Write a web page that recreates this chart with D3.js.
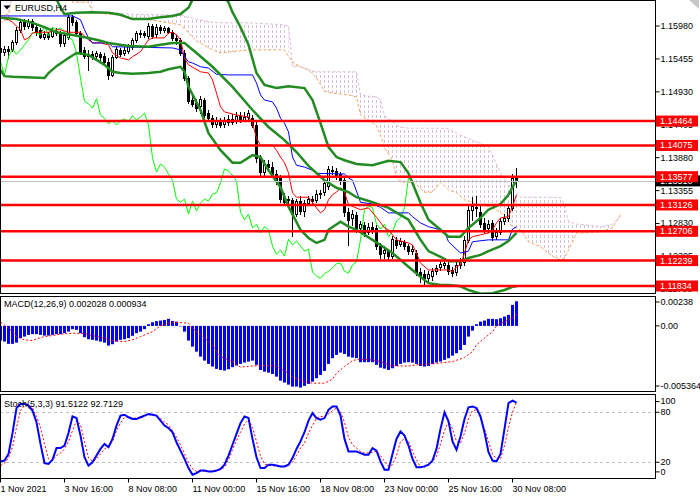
<!DOCTYPE html>
<html>
<head>
<meta charset="utf-8">
<script src="https://cdn.jsdelivr.net/npm/d3@7"></script>
<style>
  body { margin: 0; background: #fff; }
  svg { display: block; }
  text { font-family: "Liberation Sans", Arial, sans-serif; font-size: 9px; fill: #000; }
</style>
</head>
<body>
<div class="chart"></div>
<script>
// EURUSD H4 bars, 1 Nov 00:00 .. 30 Nov 12:00 (weekends skipped)
var opens = [1.1563,1.1557,1.1561,1.1561,1.1573,1.1592,1.1604,1.1598,1.1606,1.1596,
  1.1592,1.1580,1.1585,1.1582,1.1590,1.1587,1.1571,1.1580,1.1612,1.1604,
  1.1587,1.1560,1.1550,1.1553,1.1550,1.1553,1.1550,1.1541,1.1520,1.1549,
  1.1560,1.1555,1.1558,1.1565,1.1576,1.1585,1.1587,1.1582,1.1598,1.1585,
  1.1596,1.1592,1.1595,1.1588,1.1579,1.1576,1.1555,1.1515,1.1480,1.1475,
  1.1470,1.1480,1.1459,1.1451,1.1442,1.1447,1.1442,1.1445,1.1450,1.1447,
  1.1455,1.1448,1.1453,1.1451,1.1440,1.1388,1.1365,1.1378,1.1373,1.1362,
  1.1357,1.1325,1.1321,1.1321,1.1298,1.1319,1.1303,1.1316,1.1322,1.1321,
  1.1330,1.1333,1.1343,1.1368,1.1367,1.1362,1.1352,1.1301,1.1292,1.1297,
  1.1276,1.1281,1.1270,1.1278,1.1276,1.1247,1.1236,1.1239,1.1231,1.1257,
  1.1250,1.1254,1.1247,1.1239,1.1236,1.1206,1.1203,1.1196,1.1199,1.1207,
  1.1214,1.1217,1.1217,1.1209,1.1206,1.1217,1.1222,1.1257,1.1305,1.1309,
  1.1301,1.1284,1.1276,1.1284,1.1263,1.1270,1.1287,1.1292,1.1308,1.1356];
var highs = [1.1568,1.1566,1.1566,1.1576,1.1596,1.1608,1.1609,1.1609,1.1609,1.1601,
  1.1595,1.1590,1.1588,1.1595,1.1595,1.1590,1.1587,1.1616,1.1616,1.1608,
  1.1590,1.1565,1.1560,1.1558,1.1558,1.1557,1.1555,1.1547,1.1552,1.1565,
  1.1563,1.1565,1.1569,1.1579,1.1590,1.1592,1.1590,1.1603,1.1601,1.1601,
  1.1600,1.1598,1.1596,1.1592,1.1584,1.1579,1.1560,1.1518,1.1486,1.1482,
  1.1486,1.1483,1.1464,1.1456,1.1453,1.1451,1.1453,1.1456,1.1458,1.1461,
  1.1461,1.1461,1.1464,1.1456,1.1445,1.1392,1.1384,1.1384,1.1381,1.1368,
  1.1360,1.1332,1.1327,1.1324,1.1322,1.1327,1.1321,1.1327,1.1327,1.1337,
  1.1337,1.1352,1.1375,1.1375,1.1372,1.1365,1.1359,1.1308,1.1305,1.1301,
  1.1287,1.1286,1.1284,1.1286,1.1281,1.1252,1.1247,1.1242,1.1263,1.1262,
  1.1260,1.1257,1.1250,1.1249,1.1241,1.1212,1.1209,1.1207,1.1212,1.1217,
  1.1223,1.1226,1.1222,1.1214,1.1222,1.1228,1.1263,1.1311,1.1325,1.1327,
  1.1311,1.1292,1.1289,1.1289,1.1276,1.1292,1.1298,1.1314,1.1362,1.1372];
var lows = [1.1550,1.1552,1.1547,1.1558,1.1569,1.1588,1.1593,1.1595,1.1592,1.1584,
  1.1579,1.1577,1.1577,1.1580,1.1584,1.1566,1.1566,1.1577,1.1600,1.1584,
  1.1553,1.1547,1.1528,1.1545,1.1547,1.1544,1.1537,1.1514,1.1518,1.1547,
  1.1550,1.1552,1.1555,1.1561,1.1573,1.1580,1.1580,1.1579,1.1579,1.1580,
  1.1587,1.1588,1.1587,1.1576,1.1569,1.1552,1.1512,1.1475,1.1470,1.1462,
  1.1459,1.1453,1.1447,1.1437,1.1437,1.1437,1.1437,1.1440,1.1442,1.1443,
  1.1445,1.1447,1.1448,1.1437,1.1381,1.1357,1.1357,1.1368,1.1359,1.1346,
  1.1317,1.1313,1.1313,1.1263,1.1295,1.1298,1.1295,1.1313,1.1314,1.1317,
  1.1324,1.1329,1.1338,1.1362,1.1354,1.1346,1.1295,1.1249,1.1281,1.1270,
  1.1271,1.1263,1.1266,1.1268,1.1242,1.1228,1.1228,1.1226,1.1228,1.1244,
  1.1247,1.1242,1.1234,1.1234,1.1201,1.1190,1.1185,1.1191,1.1193,1.1203,
  1.1209,1.1212,1.1203,1.1199,1.1201,1.1212,1.1217,1.1254,1.1289,1.1295,
  1.1278,1.1270,1.1270,1.1257,1.1258,1.1266,1.1282,1.1287,1.1305,1.1341];
var closes = [1.1557,1.1561,1.1558,1.1573,1.1592,1.1604,1.1598,1.1606,1.1596,1.1588,
  1.1580,1.1585,1.1580,1.1590,1.1587,1.1571,1.1584,1.1612,1.1604,1.1587,
  1.1557,1.1550,1.1553,1.1549,1.1555,1.1549,1.1541,1.1520,1.1549,1.1561,
  1.1553,1.1560,1.1568,1.1576,1.1587,1.1587,1.1584,1.1598,1.1582,1.1596,
  1.1592,1.1595,1.1588,1.1579,1.1576,1.1555,1.1515,1.1478,1.1474,1.1467,
  1.1482,1.1456,1.1451,1.1442,1.1447,1.1440,1.1447,1.1450,1.1445,1.1455,
  1.1448,1.1453,1.1459,1.1440,1.1388,1.1365,1.1378,1.1373,1.1362,1.1352,
  1.1322,1.1317,1.1322,1.1298,1.1319,1.1303,1.1316,1.1322,1.1319,1.1330,
  1.1332,1.1348,1.1370,1.1367,1.1360,1.1351,1.1301,1.1289,1.1298,1.1276,
  1.1282,1.1268,1.1278,1.1273,1.1247,1.1234,1.1241,1.1231,1.1258,1.1249,
  1.1255,1.1247,1.1239,1.1242,1.1206,1.1199,1.1196,1.1203,1.1207,1.1212,
  1.1219,1.1220,1.1207,1.1204,1.1217,1.1222,1.1257,1.1305,1.1311,1.1308,
  1.1282,1.1274,1.1282,1.1262,1.1270,1.1287,1.1292,1.1308,1.1356,1.1351];

var dateIdx = [0, 16, 32, 48, 64, 80, 96, 112, 128];
var dateLabels = ["1 Nov 2021", "3 Nov 16:00", "8 Nov 08:00", "11 Nov 00:00", "15 Nov 16:00",
  "18 Nov 08:00", "23 Nov 00:00", "25 Nov 16:00", "30 Nov 08:00"];

var priceTicks = [1.15980, 1.15455, 1.14930, 1.14405, 1.13880, 1.13355, 1.12830, 1.12305, 1.11780];
var levels = [1.14464, 1.14075, 1.13577, 1.13126, 1.12706, 1.12239, 1.11834];
var bidPrice = 1.13510;

// indicator lines: [bar, value]
var tenkan = [[0,1.1611],[2,1.1608],[3,1.1604],[5,1.1592],[6,1.1576],[7,1.1579],[8,1.1587],[9,1.1588],
  [12,1.1588],[14,1.1592],[15,1.1592],[17,1.1588],[20,1.1588],[22,1.1576],[23,1.1571],[25,1.1571],
  [27,1.1568],[28,1.1555],[30,1.1547],[32,1.1544],[33,1.1549],[35,1.1557],[37,1.1576],[38,1.1579],
  [41,1.1579],[42,1.1587],[43,1.1588],[44,1.1584],[45,1.1576],[46,1.1547],[47,1.1536],[50,1.1525],
  [52,1.1523],[53,1.1512],[54,1.1491],[55,1.1469],[56,1.1461],[59,1.1456],[62,1.1453],[63,1.1443],
  [64,1.1419],[65,1.1408],[68,1.1408],[69,1.1400],[70,1.1389],[71,1.1380],[72,1.1364],[73,1.1332],
  [74,1.1325],[77,1.1325],[79,1.1308],[80,1.1300],[81,1.1305],[82,1.1321],[83,1.1329],[84,1.1333],
  [85,1.1340],[86,1.1333],[87,1.1313],[90,1.1305],[92,1.1308],[94,1.1293],[96,1.1276],[97,1.1273],
  [99,1.1257],[102,1.1252],[103,1.1249],[104,1.1236],[105,1.1220],[107,1.1209],[112,1.1209],[113,1.1206],
  [114,1.1214],[115,1.1217],[116,1.1236],[117,1.1257],[118,1.1262],[120,1.1265],[122,1.1268],[123,1.1273],
  [124,1.1284],[125,1.1292],[127,1.1294],[128,1.1310],[129,1.1329]];
var kijun = [[0,1.1614],[18,1.1614],[20,1.1608],[21,1.1592],[22,1.1579],[23,1.1571],[27,1.1571],[28,1.1565],
  [43,1.1563],[45,1.1560],[46,1.1549],[47,1.1541],[48,1.1539],[50,1.1533],[52,1.1531],[54,1.1521],
  [57,1.1520],[63,1.1520],[64,1.1507],[65,1.1488],[66,1.1480],[68,1.1477],[69,1.1467],[70,1.1451],
  [71,1.1443],[72,1.1429],[73,1.1389],[74,1.1376],[76,1.1373],[78,1.1368],[79,1.1363],[86,1.1362],
  [87,1.1356],[88,1.1352],[90,1.1317],[93,1.1314],[95,1.1309],[97,1.1300],[102,1.1300],[103,1.1294],
  [105,1.1284],[107,1.1278],[110,1.1273],[111,1.1270],[112,1.1254],[115,1.1236],[117,1.1239],[118,1.1254],
  [122,1.1257],[127,1.1257],[128,1.1274],[129,1.1278]];
var bbUpper = [[0,1.1697],[5,1.1702],[10,1.1681],[12,1.1659],[14,1.1641],[15,1.1627],[16,1.1617],[19,1.1619],
  [23,1.1620],[27,1.1619],[30,1.1616],[33,1.1609],[37,1.1609],[40,1.1612],[43,1.1614],[45,1.1617],
  [47,1.1627],[48,1.1640],[50,1.1649],[52,1.1654],[54,1.1651],[56,1.1643],[57,1.1636],[58,1.1620],
  [60,1.1596],[62,1.1568],[64,1.1523],[66,1.1504],[69,1.1499],[72,1.1502],[76,1.1499],[78,1.1480],
  [80,1.1443],[82,1.1405],[84,1.1389],[86,1.1384],[89,1.1378],[93,1.1376],[97,1.1383],[100,1.1381],
  [102,1.1363],[105,1.1316],[107,1.1289],[110,1.1273],[112,1.1262],[115,1.1262],[117,1.1276],[120,1.1292],
  [122,1.1305],[125,1.1314],[127,1.1329],[128,1.1341],[129,1.1352]];
var bbMiddle = [[0,1.1611],[4,1.1609],[8,1.1603],[11,1.1596],[14,1.1588],[17,1.1585],[21,1.1580],[24,1.1576],
  [27,1.1571],[32,1.1566],[37,1.1565],[40,1.1568],[43,1.1571],[46,1.1571],[49,1.1555],[53,1.1533],
  [58,1.1501],[63,1.1464],[67,1.1437],[71,1.1416],[74,1.1397],[77,1.1375],[81,1.1352],[84,1.1340],
  [87,1.1333],[89,1.1325],[93,1.1317],[97,1.1308],[102,1.1289],[105,1.1257],[107,1.1239],[110,1.1230],
  [112,1.1223],[115,1.1223],[117,1.1228],[120,1.1233],[122,1.1239],[125,1.1247],[127,1.1255],[129,1.1268]];
var bbLower = [[0,1.1528],[1,1.1518],[3,1.1517],[11,1.1515],[12,1.1523],[14,1.1534],[17,1.1547],[19,1.1555],
  [22,1.1552],[24,1.1544],[26,1.1536],[28,1.1525],[30,1.1523],[33,1.1522],[37,1.1523],[40,1.1525],
  [42,1.1529],[45,1.1533],[46,1.1525],[47,1.1501],[50,1.1464],[52,1.1427],[55,1.1400],[58,1.1380],
  [60,1.1380],[63,1.1392],[65,1.1389],[67,1.1368],[70,1.1341],[72,1.1310],[75,1.1273],[77,1.1260],
  [79,1.1252],[81,1.1257],[82,1.1273],[85,1.1286],[87,1.1278],[89,1.1273],[93,1.1257],[98,1.1236],
  [102,1.1214],[105,1.1198],[107,1.1188],[110,1.1185],[112,1.1185],[115,1.1183],[117,1.1177],[120,1.1171],
  [123,1.1172],[126,1.1177],[128,1.1182],[129,1.1183]];
// cloud (shifted 26 bars ahead): [bar, senkou A, senkou B]
var cloud = [[0,1.1614,1.1604],[2,1.1617,1.1608],[3,1.1655,1.1663],[17,1.1655,1.1687],[18,1.1636,1.1679],
  [22,1.1636,1.1671],[23,1.1619,1.1620],[29,1.1616,1.1619],[32,1.1611,1.1617],[37,1.1608,1.1616],
  [42,1.1603,1.1616],[45,1.1600,1.1616],[47,1.1587,1.1612],[49,1.1574,1.1609],[53,1.1560,1.1604],
  [55,1.1555,1.1603],[58,1.1557,1.1603],[62,1.1560,1.1603],[71,1.1560,1.1600],[72,1.1549,1.1598],
  [73,1.1541,1.1534],[75,1.1533,1.1533],[77,1.1528,1.1528],[79,1.1515,1.1525],[81,1.1494,1.1525],
  [83,1.1491,1.1525],[87,1.1488,1.1525],[89,1.1485,1.1525],[90,1.1456,1.1488],[92,1.1448,1.1486],
  [94,1.1439,1.1485],[95,1.1424,1.1480],[96,1.1404,1.1455],[98,1.1384,1.1445],[99,1.1356,1.1440],
  [100,1.1349,1.1437],[102,1.1349,1.1435],[104,1.1345,1.1435],[106,1.1333,1.1435],[108,1.1333,1.1435],
  [110,1.1349,1.1435],[112,1.1337,1.1434],[114,1.1332,1.1427],[116,1.1321,1.1421],[118,1.1316,1.1416],
  [120,1.1313,1.1411],[122,1.1310,1.1405],[123,1.1308,1.1392],[125,1.1301,1.1363],[128,1.1278,1.1337],
  [130,1.1273,1.1325],[132,1.1254,1.1325],[135,1.1246,1.1325],[138,1.1231,1.1325],[140,1.1225,1.1324],
  [141,1.1228,1.1313],[142,1.1241,1.1286],[143,1.1254,1.1284],[144,1.1268,1.1282],[146,1.1268,1.1281],
  [150,1.1270,1.1278],[153,1.1276,1.1282],[155,1.1297,1.1295]];

var macdHist = [-0.00121,-0.00129,-0.00148,-0.00148,-0.00138,-0.00101,-0.00088,-0.00074,-0.00068,-0.00068,
  -0.00074,-0.00080,-0.00080,-0.00074,-0.00068,-0.00068,-0.00060,-0.00047,-0.00027,-0.00033,
  -0.00060,-0.00093,-0.00110,-0.00115,-0.00121,-0.00129,-0.00138,-0.00162,-0.00151,-0.00129,
  -0.00115,-0.00110,-0.00101,-0.00082,-0.00060,-0.00047,-0.00027,0.00014,0.00030,0.00039,
  0.00044,0.00049,0.00058,0.00041,0.00035,-0.00004,-0.00047,-0.00121,-0.00171,-0.00212,
  -0.00253,-0.00286,-0.00313,-0.00335,-0.00354,-0.00363,-0.00368,-0.00357,-0.00340,-0.00327,
  -0.00313,-0.00302,-0.00294,-0.00286,-0.00321,-0.00363,-0.00377,-0.00385,-0.00396,-0.00418,
  -0.00451,-0.00467,-0.00484,-0.00500,-0.00500,-0.00508,-0.00494,-0.00478,-0.00459,-0.00431,
  -0.00404,-0.00371,-0.00313,-0.00266,-0.00239,-0.00220,-0.00231,-0.00253,-0.00261,-0.00266,
  -0.00299,-0.00299,-0.00299,-0.00299,-0.00321,-0.00344,-0.00352,-0.00363,-0.00349,-0.00330,
  -0.00313,-0.00302,-0.00299,-0.00302,-0.00313,-0.00330,-0.00335,-0.00330,-0.00313,-0.00302,
  -0.00294,-0.00280,-0.00266,-0.00245,-0.00225,-0.00198,-0.00157,-0.00088,-0.00039,0.00014,
  0.00035,0.00044,0.00058,0.00058,0.00055,0.00063,0.00077,0.00091,0.00173,0.002028];
var macdSignal = [[0,0.00030],[1,0.00008],[3,-0.00047],[4,-0.00088],[6,-0.00115],[8,-0.00121],[9,-0.00107],
  [11,-0.00088],[13,-0.00080],[15,-0.00068],[18,-0.00060],[21,-0.00063],[23,-0.00080],[26,-0.00101],
  [28,-0.00124],[31,-0.00129],[33,-0.00115],[35,-0.00088],[38,-0.00047],[40,0],[42,0.00022],[43,0.00030],
  [47,0.00022],[48,-0.00019],[50,-0.00074],[53,-0.00157],[55,-0.00253],[58,-0.00294],[60,-0.00340],
  [63,-0.00330],[67,-0.00327],[69,-0.00335],[72,-0.00390],[73,-0.00423],[76,-0.00459],[78,-0.00472],
  [81,-0.00472],[83,-0.00439],[84,-0.00390],[86,-0.00335],[88,-0.00285],[90,-0.00275],[93,-0.00280],
  [95,-0.00294],[97,-0.00321],[98,-0.00330],[102,-0.00330],[104,-0.00321],[108,-0.00313],[111,-0.00302],
  [113,-0.00294],[116,-0.00261],[118,-0.00212],[119,-0.00157],[121,-0.00101],[123,-0.00047],[124,0],
  [126,0.00035],[128,0.00063],[129,0.000934]];

var stochMain = [21,22,30,55,85,90,90,88,82,68, 42,19,18,23,37,37,40,55,75,73,
  52,26,16,20,28,36,42,38,48,64, 76,77,74,72,72,74,76,78,77,76,
  70,64,61,56,44,34,24,13,5,7, 10,10,9,9,10,12,17,28,41,54,
  67,75,73,48,26,13,13,17,17,16, 15,15,17,25,36,45,56,70,79,73,
  71,73,83,87,87,76,48,33,33,33, 31,29,29,37,34,21,11,11,30,48,
  57,52,40,24,14,14,15,17,22,36, 60,80,69,45,35,51,72,86,87,85,
  75,56,32,22,21,30,60,91,94,91.51];
var stochSignal = [16,19,25,38,62,82,88,89,85,75, 62,42,24,22,28,31,36,45,58,70,
  65,45,25,21,24,30,36,39,45,58, 67,74,75,73,73,73,75,77,77,75,
  73,68,65,58,50,41,30,20,12,9, 9,9,9,9,10,11,14,23,35,46,
  56,66,71,62,45,27,18,16,16,15, 15,15,16,20,28,37,43,55,64,73,
  75,75,78,82,85,81,68,50,41,37, 33,31,31,32,33,28,21,15,17,28,
  45,48,45,33,23,14,14,17,21,27, 42,58,69,60,45,43,55,72,82,83,
  73,60,45,30,24,24,40,62,80,92.71];

var svgWidth = 700, svgHeight = 500, plotRight = 655;
var mainPanel = {top: 0, bottom: 293};
var macdPanel = {top: 296, bottom: 391};
var stochPanel = {top: 394, bottom: 478};

var svg = d3.select(".chart").append("svg")
  .attr("width", svgWidth)
  .attr("height", svgHeight);
svg.append("rect").attr("width", svgWidth).attr("height", svgHeight).attr("fill", "#fff");

// 4 px per bar
var x = d3.scaleLinear().domain([0, 1]).range([0.5, 4.5]);
var yPrice = d3.scaleLinear().domain([1.11834, 1.15980]).range([286, 26]);
var yMacd = d3.scaleLinear().domain([-0.005364, 0.00238]).range([391, 297]);
var yStoch = d3.scaleLinear().domain([0, 100]).range([478.9, 395.6]);

var defs = svg.append("defs");
[["clipMain", mainPanel], ["clipMacd", macdPanel], ["clipStoch", stochPanel]].forEach(function(c) {
  defs.append("clipPath").attr("id", c[0]).append("rect")
    .attr("x", 0).attr("y", c[1].top)
    .attr("width", plotRight).attr("height", c[1].bottom - c[1].top);
});
function hatch(id, color) {
  var p = defs.append("pattern").attr("id", id)
    .attr("patternUnits", "userSpaceOnUse")
    .attr("width", 4).attr("height", 5);
  p.append("rect").attr("x", 0).attr("y", 0).attr("width", 1).attr("height", 3).attr("fill", color);
}
hatch("hatchB", "#d8bfd8");
hatch("hatchA", "#f4a460");

function drawLine(g, data, yScale, color, width, dash) {
  var line = d3.line().x(d => x(d[0])).y(d => yScale(d[1]));
  return g.append("path").datum(data)
    .attr("d", line)
    .attr("fill", "none")
    .attr("stroke", color)
    .attr("stroke-width", width)
    .attr("stroke-dasharray", dash || null);
}

// ---------- price window ----------
var main = svg.append("g").attr("clip-path", "url(#clipMain)");

var areaB = d3.area().x(d => x(d[0])).y0(d => yPrice(d[1])).y1(d => yPrice(d[2]))
  .defined(d => d[2] >= d[1]);
var areaA = d3.area().x(d => x(d[0])).y0(d => yPrice(d[1])).y1(d => yPrice(d[2]))
  .defined(d => d[1] >= d[2]);
main.append("path").datum(cloud).attr("d", areaB).attr("fill", "url(#hatchB)");
main.append("path").datum(cloud).attr("d", areaA).attr("fill", "url(#hatchA)");
drawLine(main, cloud.map(d => [d[0], d[1]]), yPrice, "#f4a460", 1, "3,2");
drawLine(main, cloud.map(d => [d[0], d[2]]), yPrice, "#d8bfd8", 1, "3,2");

var bars = d3.range(closes.length);
var candles = main.append("g");
candles.selectAll("line").data(bars).enter().append("line")
  .attr("x1", i => x(i)).attr("x2", i => x(i))
  .attr("y1", i => Math.round(yPrice(highs[i])))
  .attr("y2", i => Math.round(yPrice(lows[i])) + 1)
  .attr("stroke", "#000");
candles.selectAll("rect").data(bars).enter().append("rect")
  .attr("x", i => x(i) - 1)
  .attr("y", i => Math.round(yPrice(Math.max(opens[i], closes[i]))) + 0.5)
  .attr("width", 2)
  .attr("height", i => Math.max(0, Math.round(yPrice(Math.min(opens[i], closes[i]))) -
    Math.round(yPrice(Math.max(opens[i], closes[i])))))
  .attr("fill", i => closes[i] < opens[i] ? "#000" : "#fff")
  .attr("stroke", "#000");

// chikou = close plotted 26 bars back
var chikou = closes.map((c, i) => [i - 26, c]).filter(d => d[0] >= -1);
drawLine(main, chikou, yPrice, "#00ff00", 1);
drawLine(main, tenkan, yPrice, "#ff0000", 1);
drawLine(main, kijun, yPrice, "#0000ff", 1);
[bbUpper, bbMiddle, bbLower].forEach(function(b) {
  drawLine(main, b, yPrice, "#228b22", 2.5);
});

main.append("line")
  .attr("x1", 0).attr("x2", plotRight)
  .attr("y1", Math.round(yPrice(bidPrice)) + 0.5).attr("y2", Math.round(yPrice(bidPrice)) + 0.5)
  .attr("stroke", "#c0c0c0");

main.selectAll(".level").data(levels).enter().append("line")
  .attr("class", "level")
  .attr("x1", 0).attr("x2", plotRight)
  .attr("y1", d => yPrice(d)).attr("y2", d => yPrice(d))
  .attr("stroke", "#ff0000")
  .attr("stroke-width", 2.5);

svg.append("path").attr("d", "M3.5,5.5 L10.5,5.5 L7,9.5 Z").attr("fill", "#000");
svg.append("text").attr("x", 15).attr("y", 10.5).text("EURUSD,H4");

// ---------- MACD window ----------
var macdG = svg.append("g").attr("clip-path", "url(#clipMacd)");
macdG.selectAll("rect").data(macdHist).enter().append("rect")
  .attr("x", (d, i) => x(i) - 1.5)
  .attr("width", 3)
  .attr("y", d => Math.min(yMacd(0), yMacd(d)))
  .attr("height", d => Math.abs(yMacd(d) - yMacd(0)))
  .attr("fill", "#0000ff");
drawLine(macdG, macdSignal, yMacd, "#ff0000", 1, "2,2");
svg.append("text").attr("x", 4).attr("y", 307).text("MACD(12,26,9) 0.002028 0.000934");

// ---------- Stochastic window ----------
var stochG = svg.append("g").attr("clip-path", "url(#clipStoch)");
stochG.selectAll(".lvl").data([80, 20]).enter().append("line")
  .attr("x1", 0).attr("x2", plotRight)
  .attr("y1", d => Math.round(yStoch(d)) + 0.5).attr("y2", d => Math.round(yStoch(d)) + 0.5)
  .attr("stroke", "#c0c0c0")
  .attr("stroke-dasharray", "3,3");
drawLine(stochG, stochSignal.map((v, i) => [i, v]), yStoch, "#ff0000", 1, "2,2");
drawLine(stochG, stochMain.map((v, i) => [i, v]), yStoch, "#0000ff", 2);
svg.append("text").attr("x", 4).attr("y", 407).text("Stoch(5,3,3) 91.5122 92.7129");

// window frames
[mainPanel, macdPanel, stochPanel].forEach(function(p) {
  svg.append("rect")
    .attr("x", 0.5).attr("y", p.top + 0.5)
    .attr("width", plotRight).attr("height", p.bottom - p.top)
    .attr("fill", "none").attr("stroke", "#000");
});

// ---------- axes ----------
var priceAxis = d3.axisRight(yPrice)
  .tickValues(priceTicks).tickSize(4).tickPadding(1).offset(0)
  .tickFormat(d3.format(".5f"));
svg.append("g")
  .attr("transform", `translate(${plotRight + 0.5},0)`)
  .call(priceAxis)
  .call(g => g.select(".domain").remove());

// bid label, then the level labels on top
svg.append("rect").attr("x", 656).attr("y", yPrice(bidPrice) - 5.5)
  .attr("width", 44).attr("height", 11).attr("fill", "#000");
svg.append("text").attr("x", 660).attr("y", yPrice(bidPrice)).attr("dy", "0.33em")
  .style("fill", "#fff").text(d3.format(".5f")(bidPrice));
var lvlLabels = svg.selectAll(".lvlLabel").data(levels).enter().append("g");
lvlLabels.append("rect")
  .attr("x", 656).attr("y", d => yPrice(d) - 5.5)
  .attr("width", 42).attr("height", 11)
  .attr("fill", "#ff0000");
lvlLabels.append("text")
  .attr("x", 660).attr("y", d => yPrice(d)).attr("dy", "0.33em")
  .style("fill", "#fff")
  .text(d => d3.format(".5f")(d));

var macdTicks = [0.00238, 0, -0.005364];
var macdAxis = d3.axisRight(yMacd).tickValues(macdTicks).tickSize(4).tickPadding(1).offset(0)
  .tickFormat((d, i) => ["0.00238", "0.00", "-0.005364"][i]);
svg.append("g")
  .attr("transform", `translate(${plotRight + 0.5},0)`)
  .call(macdAxis)
  .call(g => g.select(".domain").remove())
  .selectAll(".tick")
  .attr("transform", d => `translate(0,${yMacd(d) + (d > 0.002 ? 5 : d < -0.005 ? -5 : 0)})`);

var stochAxis = d3.axisRight(yStoch).tickValues([100, 80, 20, 0]).tickSize(4).tickPadding(1).offset(0);
svg.append("g")
  .attr("transform", `translate(${plotRight + 0.5},0)`)
  .call(stochAxis)
  .call(g => g.select(".domain").remove())
  .selectAll(".tick")
  .attr("transform", d => `translate(0,${yStoch(d) + (d === 100 ? 6 : d === 0 ? -7 : 0)})`);

var dateAxis = d3.axisBottom(x).tickValues(dateIdx).tickSize(4).tickPadding(3).offset(0)
  .tickFormat((d, i) => dateLabels[i]);
svg.append("g")
  .attr("transform", `translate(0,${stochPanel.bottom + 0.5})`)
  .call(dateAxis)
  .call(g => g.select(".domain").remove())
  .selectAll("text")
  .attr("text-anchor", "start")
  .attr("x", 0);

// chart-shift marker
svg.append("path").attr("d", "M689,0 L699,0 L699,9 Z").attr("fill", "#c8c8c8");
</script>
</body>
</html>
